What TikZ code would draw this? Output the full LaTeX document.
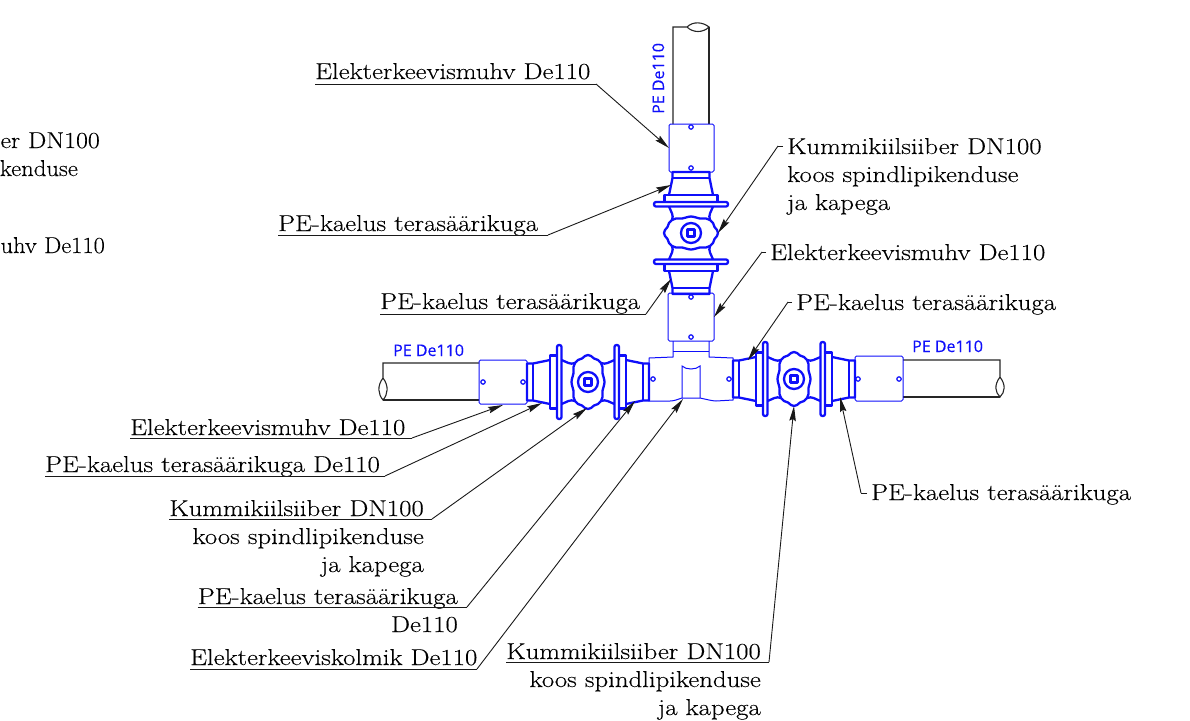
\documentclass[tikz,border=0pt]{standalone}
\usepackage{fontspec}
\usetikzlibrary{arrows.meta}
\setmainfont{Latin Modern Roman}[FakeStretch=1.165,FakeBold=0.25]
\newfontfamily\pefont{Open Sans}[FakeBold=0.3]
\definecolor{cadblue}{RGB}{15,15,250}
\tikzset{
  x=1pt,y=-1pt,
  lab/.style={inner sep=0pt,font=\fontsize{23}{23}\selectfont,text=black},
  pe/.style={inner sep=0pt,text=cadblue,font=\pefont\fontsize{16}{16}\selectfont},
  leader/.style={draw=black!90,line width=0.9pt,-{Stealth[length=15pt,width=6.5pt,inset=2pt]}},
  pipeline/.style={draw=black!85,line width=1.1pt},
  rule/.style={draw=black!90,line width=0.9pt},
  thin part/.style={draw=cadblue,line width=1pt},
  thick part/.style={draw=cadblue,line width=2.3pt,line join=round},
  valvepic/.pic={
    \draw[thick part] plot[smooth cycle,tension=0.55] coordinates{(0,27)(3,26)(6,23.5)(10,22)(13,19)(14.5,15)(14.5,9)(16.5,0)(14.5,-9)(14.5,-15)(13,-19)(10,-22)(6,-23.5)(3,-26)(0,-27)(-3,-26)(-6,-23.5)(-10,-22)(-13,-19)(-14.5,-15)(-14.5,-9)(-16.5,0)(-14.5,9)(-14.5,15)(-13,19)(-10,22)(-6,23.5)(-3,26)};
    \draw[thick part] (0,0) circle (10);
    \draw[thick part] (-3.5,-3.5) rectangle (3.5,3.5);
    \foreach \s in {1,-1}{
      \draw[thick part] (\s*13,19) .. controls (\s*18,17) and (\s*21,20) .. (\s*26.5,22);
      \draw[thick part] (\s*13,-19) .. controls (\s*18,-17) and (\s*21,-20) .. (\s*26.5,-22);
      \draw[thick part,rounded corners=2pt] (\s*26.5,-37) rectangle (\s*31,37);
      \draw[thick part] (\s*31,-26.5) rectangle (\s*38,26.5);
      \draw[thick part] (\s*38,-22) -- (\s*55,-18.5) -- (\s*61,-18.5) -- (\s*61,18.5) -- (\s*55,18.5) -- (\s*38,22);
      \draw[thick part] (\s*55,-18.5) -- (\s*55,18.5);
    }
  }
}
\begin{document}
\begin{tikzpicture}
\useasboundingbox (0,0) rectangle (1190,720);
% pipes
\draw[pipeline] (673,124) -- (673,27) -- (687,27) .. controls (693,21) and (703,22) .. (709,27) .. controls (703,33) and (693,33) .. (687,27);
\draw[pipeline] (709,27) -- (709,124);
\draw[pipeline] (479,363) -- (383,363) -- (383,378) .. controls (377,386) and (378,394) .. (383,400) .. controls (388,394) and (389,386) .. (383,378);
\draw[pipeline] (383,400) -- (479,400);
\draw[pipeline] (903,360) -- (1000,360) -- (1000,377) .. controls (994,385) and (995,392) .. (1000,397) .. controls (1005,392) and (1006,385) .. (1000,377);
\draw[pipeline] (1000,397) -- (903,397);
% muffs
\draw[thin part,rounded corners=1.5pt] (669,124) rectangle (714,172);
\draw[thin part,rounded corners=1.5pt] (668,293) rectangle (714,341);
\draw[thin part,rounded corners=1.5pt] (479,360) rectangle (527,404);
\draw[thin part,rounded corners=1.5pt] (855,356) rectangle (903,401);
\foreach \p in {(691,127),(691,168),(691,297),(691,337),(483,382),(523,382),(858,379),(899,379),(653,379),(729,379)}
  \draw[thin part,line width=1.2pt] \p circle (2.2);
% tee
\draw[thin part] (673,341) -- (673,357) -- (649,358) -- (649,401) -- (670,401) .. controls (675,401) and (678,399) .. (682,398) -- (700,398) .. controls (705,399) and (712,401) .. (716,401) -- (733,400) -- (733,358) -- (709,357) -- (709,341);
\draw[thin part] (673,351) -- (709,351);
\draw[thin part] (682,398) -- (682,366) .. controls (686,370) and (696,370) .. (700,366) -- (700,398);
% valves
\pic[rotate=90] at (691,233) {valvepic};
\pic at (588,382) {valvepic};
\pic at (794,379) {valvepic};
% pipe labels
\node[pe,anchor=base west] (peleft) at (393,356) {PE De110};
\node[pe,anchor=base west] (peright) at (912,352) {PE De110};
\node[pe,anchor=base west,rotate=90] (petop) at (664,114) {PE De110};
% text fragments at the left edge
\node[lab,anchor=base east,xscale=.965] (cutA) at (100,148) {er DN100};
\node[lab,anchor=base east,xscale=.92] (cutB) at (78,176) {kenduse};
\node[lab,anchor=base east,xscale=.91] (cutC) at (105,253) {uhv De110};
% labels
\node[lab,anchor=base west] (a) at (315,79) {Elekterkeevismuhv De110};
\coordinate (aE) at (596,84); \coordinate (aT) at (669,148);
\draw[rule] (a.base west|-aE) -- (aE); \draw[leader] (aE) -- (aT);

\node[lab,anchor=base west] (b) at (787,154) {Kummikiilsiiber DN100};
\node[lab,anchor=base west] (b2) at (787,182) {koos spindlipikenduse};
\node[lab,anchor=base west] (b3) at (787,210) {ja kapega};
\coordinate (bS) at (783,146); \coordinate (bE) at (778,146); \coordinate (bT) at (718,233);
\draw[rule] (bS) -- (bE); \draw[leader] (bE) -- (bT);

\node[lab,anchor=base west] (c) at (278,231) {PE-kaelus terasäärikuga};
\coordinate (cE) at (548,235); \coordinate (cT) at (671,185);
\draw[rule] (c.base west|-cE) -- (cE); \draw[leader] (cE) -- (cT);

\node[lab,anchor=base west] (d) at (770,260) {Elekterkeevismuhv De110};
\coordinate (dS) at (766,252); \coordinate (dE) at (762,252); \coordinate (dT) at (714,317);
\draw[rule] (dS) -- (dE); \draw[leader] (dE) -- (dT);

\node[lab,anchor=base west] (e) at (380,309) {PE-kaelus terasäärikuga};
\coordinate (eE) at (646,314); \coordinate (eT) at (671,279);
\draw[rule] (e.base west|-eE) -- (eE); \draw[leader] (eE) -- (eT);

\node[lab,anchor=base west] (f) at (796,310) {PE-kaelus terasäärikuga};
\coordinate (fS) at (792,302); \coordinate (fE) at (788,302); \coordinate (fT) at (748,360);
\draw[rule] (fS) -- (fE); \draw[leader] (fE) -- (fT);

\node[lab,anchor=base west] (g) at (130,435) {Elekterkeevismuhv De110};
\coordinate (gE) at (412,438); \coordinate (gT) at (503,405);
\draw[rule] (g.base west|-gE) -- (gE); \draw[leader] (gE) -- (gT);

\node[lab,anchor=base west] (h) at (45,472) {PE-kaelus terasäärikuga De110};
\coordinate (hE) at (385,476); \coordinate (hT) at (542,403);
\draw[rule] (h.base west|-hE) -- (hE); \draw[leader] (hE) -- (hT);

\node[lab,anchor=base east] (i) at (424,516) {Kummikiilsiiber DN100};
\node[lab,anchor=base east] (i2) at (424,544) {koos spindlipikenduse};
\node[lab,anchor=base east] (i3) at (424,572) {ja kapega};
\coordinate (iE) at (432,519); \coordinate (iT) at (587,408);
\draw[rule] (i.base west|-iE) -- (iE); \draw[leader] (iE) -- (iT);

\node[lab,anchor=base east] (j) at (458,604) {PE-kaelus terasäärikuga};
\node[lab,anchor=base east] (j2) at (458,632) {De110};
\coordinate (jE) at (467,607); \coordinate (jT) at (635,401);
\draw[rule] (j.base west|-jE) -- (jE); \draw[leader] (jE) -- (jT);

\node[lab,anchor=base west] (k) at (190,665) {Elekterkeeviskolmik De110};
\coordinate (kE) at (477,669); \coordinate (kT) at (683,399);
\draw[rule] (k.base west|-kE) -- (kE); \draw[leader] (kE) -- (kT);

\node[lab,anchor=base east] (m) at (761,659) {Kummikiilsiiber DN100};
\node[lab,anchor=base east] (m2) at (761,687) {koos spindlipikenduse};
\node[lab,anchor=base east] (m3) at (761,715) {ja kapega};
\coordinate (mE) at (769,662); \coordinate (mT) at (794,406);
\draw[rule] (m.base west|-mE) -- (mE); \draw[leader] (mE) -- (mT);

\node[lab,anchor=base west] (n) at (871,500) {PE-kaelus terasäärikuga};
\coordinate (nS) at (867,493); \coordinate (nE) at (861,493); \coordinate (nT) at (840,397);
\draw[rule] (nS) -- (nE); \draw[leader] (nE) -- (nT);
\end{tikzpicture}
\end{document}
